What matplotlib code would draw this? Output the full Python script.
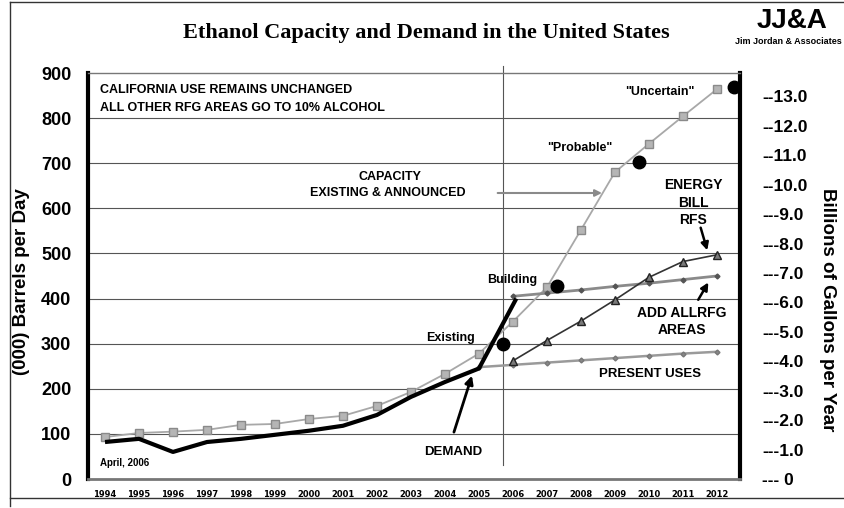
import numpy as np
import matplotlib
matplotlib.use("Agg")
import matplotlib.pyplot as plt
from matplotlib.lines import Line2D

# Данные
years = list(range(1994, 2013))
year_labels = [str(y) for y in years]
capacity = [93, 102, 105, 109, 120, 122, 133, 140, 162, 193, 233, 278,
            349, 425, 552, 680, 743, 804, 864]
demand_years = list(range(1994, 2006)) + [2006.1]
demand = [82, 89, 60, 82, 89, 98, 107, 118, 142, 182, 215, 245, 400]
present_years = list(range(2005, 2013))
present_uses = [248, 253, 258, 263, 268, 273, 278, 282]
rfg_years = list(range(2006, 2013))
add_rfg = [405, 412, 419, 427, 434, 442, 450]
rfs_years = list(range(2006, 2013))
energy_bill = [262, 307, 350, 397, 447, 482, 497]
dot_x = [2005.7, 2007.3, 2009.7, 2012.5]
dot_y = [300, 428, 703, 869]
right_ticks = list(range(0, 14))
right_labels = ["--- 0"] + ["---%d.0" % v for v in range(1, 10)] + \
               ["--%d.0" % v for v in range(10, 14)]

BOLD = dict(family=["Liberation Sans", "DejaVu Sans"], fontweight="bold")
BBL_TO_GAL = 42 * 365 / 1e6

fig = plt.figure(figsize=(8.45, 5.08), dpi=100)
ax = fig.add_axes([88 / 845, 29 / 508, 652 / 845, 406 / 508])

# рамка вокруг всего
for xs, ys in [([10 / 845, 10 / 845], [2 / 508, 1 - 2 / 508]),
               ([10 / 845, 1], [1 - 2 / 508, 1 - 2 / 508]),
               ([10 / 845, 1], [10 / 508, 10 / 508])]:
    fig.add_artist(Line2D(xs, ys, color="#333333", lw=1))

ax.set_xlim(1993.5, 2012.68)
ax.set_ylim(0, 900)
for v in range(100, 900, 100):
    ax.axhline(v, color="#555555", lw=0.8, zorder=1)
ax.plot([2005.7, 2005.7], [30, 915], color="#555555", lw=0.8, clip_on=False, zorder=1)

ax.plot(years, capacity, color="#a8a8a8", lw=1.3, marker="s", ms=6,
        mfc="#b5b5b5", mec="#8a8a8a", zorder=3)
ax.plot(present_years, present_uses, color="#9a9a9a", lw=1.8, marker="D", ms=2.5,
        mfc="#888888", mec="#777777", zorder=3)
ax.plot(rfg_years, add_rfg, color="#8a8a8a", lw=2.0, marker="D", ms=2.5,
        mfc="#555555", mec="#555555", zorder=3)
ax.plot(rfs_years, energy_bill, color="#333333", lw=1.2, marker="^", ms=6,
        mfc="#7a7a7a", mec="#222222", zorder=4)
ax.plot(demand_years, demand, color="black", lw=3, solid_capstyle="butt", zorder=5)
ax.plot(dot_x, dot_y, "o", color="black", ms=9, ls="none", zorder=6, clip_on=False)

for s in ["left", "right"]:
    ax.spines[s].set_linewidth(3)
    ax.spines[s].set_color("black")
ax.spines["top"].set_color("#777777")
ax.spines["top"].set_linewidth(1)
ax.spines["bottom"].set_color("#777777")
ax.spines["bottom"].set_linewidth(2)

ax.set_yticks(range(0, 1000, 100))
ax.set_yticklabels([str(v) for v in range(0, 1000, 100)], fontsize=13, **BOLD)
ax.tick_params(axis="y", length=0, pad=12)
ax.set_xticks(years)
ax.set_xticklabels(year_labels, fontsize=6,
                   family=["Liberation Sans Narrow", "DejaVu Sans"], fontweight="bold")
ax.tick_params(axis="x", length=0, pad=8)

ax2 = ax.twinx()
ax2.set_ylim(0, 900 * BBL_TO_GAL)
ax2.set_yticks(right_ticks)
ax2.set_yticklabels(right_labels, fontsize=12.5, **BOLD)
ax2.tick_params(axis="y", length=0, pad=16)
for s in ax2.spines.values():
    s.set_visible(False)

# тексты
fig.text(426 / 845, 1 - 33 / 508, "Ethanol Capacity and Demand in the United States",
         ha="center", va="center", fontsize=16, fontweight="bold",
         family=["Liberation Serif", "DejaVu Serif"])
fig.text(792 / 845, 1 - 21 / 508, "JJ&A", ha="center", va="center", fontsize=20, **BOLD)
fig.text(788 / 845, 1 - 41 / 508, "Jim Jordan & Associates", ha="center", va="center",
         fontsize=6.5, **BOLD)
fig.text(22 / 845, 1 - 282 / 508, "(000) Barrels per Day", rotation=90,
         ha="center", va="center", fontsize=13.5, **BOLD)
fig.text(828 / 845, 1 - 310 / 508, "Billions of Gallons per Year", rotation=-90,
         ha="center", va="center", fontsize=13.5, **BOLD)

ax.text(1993.85, 862, "CALIFORNIA USE REMAINS UNCHANGED", ha="left", va="center",
        fontsize=9, **BOLD)
ax.text(1993.85, 823, "ALL OTHER RFG AREAS GO TO 10% ALCOHOL", ha="left", va="center",
        fontsize=9, **BOLD)
ax.text(2002.38, 670, "CAPACITY", ha="center", va="center", fontsize=9, **BOLD)
ax.text(2002.32, 634, "EXISTING & ANNOUNCED", ha="center", va="center", fontsize=9, **BOLD)
ax.text(2010.32, 858, '"Uncertain"', ha="center", va="center", fontsize=9, **BOLD)
ax.text(2007.97, 734, '"Probable"', ha="center", va="center", fontsize=9, **BOLD)
ax.text(2011.3, 652, "ENERGY", ha="center", va="center", fontsize=10, **BOLD)
ax.text(2011.3, 612, "BILL", ha="center", va="center", fontsize=10, **BOLD)
ax.text(2011.3, 574, "RFS", ha="center", va="center", fontsize=10, **BOLD)
ax.text(2005.97, 441, "Building", ha="center", va="center", fontsize=9, **BOLD)
ax.text(2004.15, 313, "Existing", ha="center", va="center", fontsize=9, **BOLD)
ax.text(2010.97, 368, "ADD ALLRFG", ha="center", va="center", fontsize=10, **BOLD)
ax.text(2010.97, 330, "AREAS", ha="center", va="center", fontsize=10, **BOLD)
ax.text(2010.03, 233, "PRESENT USES", ha="center", va="center", fontsize=9.5, **BOLD)
ax.text(2004.24, 60, "DEMAND", ha="center", va="center", fontsize=9.5, **BOLD)
ax.text(1993.85, 35, "April, 2006", ha="left", va="center", fontsize=7, **BOLD)

# стрелки
ax.annotate("", xy=(2008.7, 634), xytext=(2005.47, 634),
            arrowprops=dict(arrowstyle="-|>", color="#8a8a8a", lw=1.5, mutation_scale=10))
ax.annotate("", xy=(2004.82, 235), xytext=(2004.24, 98),
            arrowprops=dict(arrowstyle="-|>", color="black", lw=2, mutation_scale=12))
ax.annotate("", xy=(2011.74, 501), xytext=(2011.5, 563),
            arrowprops=dict(arrowstyle="-|>", color="black", lw=1.8, mutation_scale=11))
ax.annotate("", xy=(2011.79, 441), xytext=(2011.41, 392),
            arrowprops=dict(arrowstyle="-|>", color="black", lw=1.8, mutation_scale=11))

fig.savefig("out.png", dpi=100)
